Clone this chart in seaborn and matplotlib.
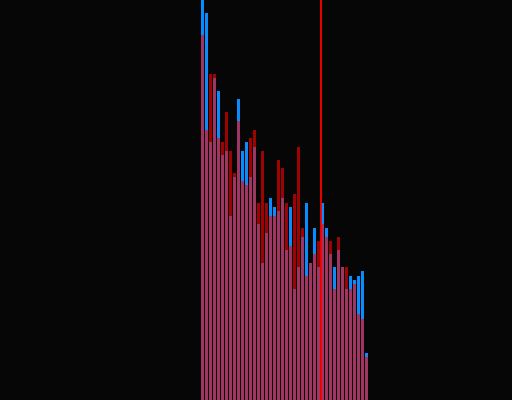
#!/usr/bin/env python3
# two overlaid histograms (blue opaque, red translucent) with a cutoff line

import seaborn as sns
import pandas as pd
import matplotlib
matplotlib.use('Agg')
import matplotlib.pyplot as plt

# bin heights (axis runs 0..400)
blue_heights = [405, 387, 258, 322, 309, 245, 249, 184, 223, 301,
                249, 258, 223, 253, 176, 137, 167, 202, 193, 189,
                202, 150, 193, 111, 133, 163, 197, 137, 172, 133,
                197, 172, 146, 133, 150, 133, 111, 124, 120, 124,
                129, 47]
red_heights = [365, 270, 326, 326, 262, 258, 288, 249, 227, 279,
               219, 215, 262, 270, 197, 249, 197, 184, 184, 240,
               232, 197, 154, 206, 253, 172, 124, 137, 146, 159,
               176, 163, 159, 111, 163, 133, 133, 111, 116, 86,
               81, 43]
bins = list(range(len(blue_heights)))
cutoff_bin = 29.5

data = pd.DataFrame({'bin': bins, 'blue': blue_heights, 'red': red_heights})

bg = '#060606'
fig = plt.figure(figsize=[5.12, 4.0], dpi=100, facecolor=bg)
ax = fig.add_axes([0, 0, 1, 1])
ax.set_facecolor(bg)

sns.barplot(data=data, x='bin', y='blue', order=bins, color='#0a8cff',
            saturation=1, width=0.75, linewidth=0, ax=ax)
sns.barplot(data=data, x='bin', y='red', order=bins, color='#ff0000',
            saturation=1, width=0.75, linewidth=0, alpha=0.62, ax=ax)
ax.axvline(cutoff_bin, color='#ff0000', linewidth=1.3, zorder=5)

# 4 px per bin, first bin starting at pixel 201
left = -202.5 / 4
ax.set_xlim(left, left + 512 / 4)
ax.set_ylim(0, 400)
ax.set_axis_off()

plt.savefig('out.png', dpi=100, facecolor=bg)
